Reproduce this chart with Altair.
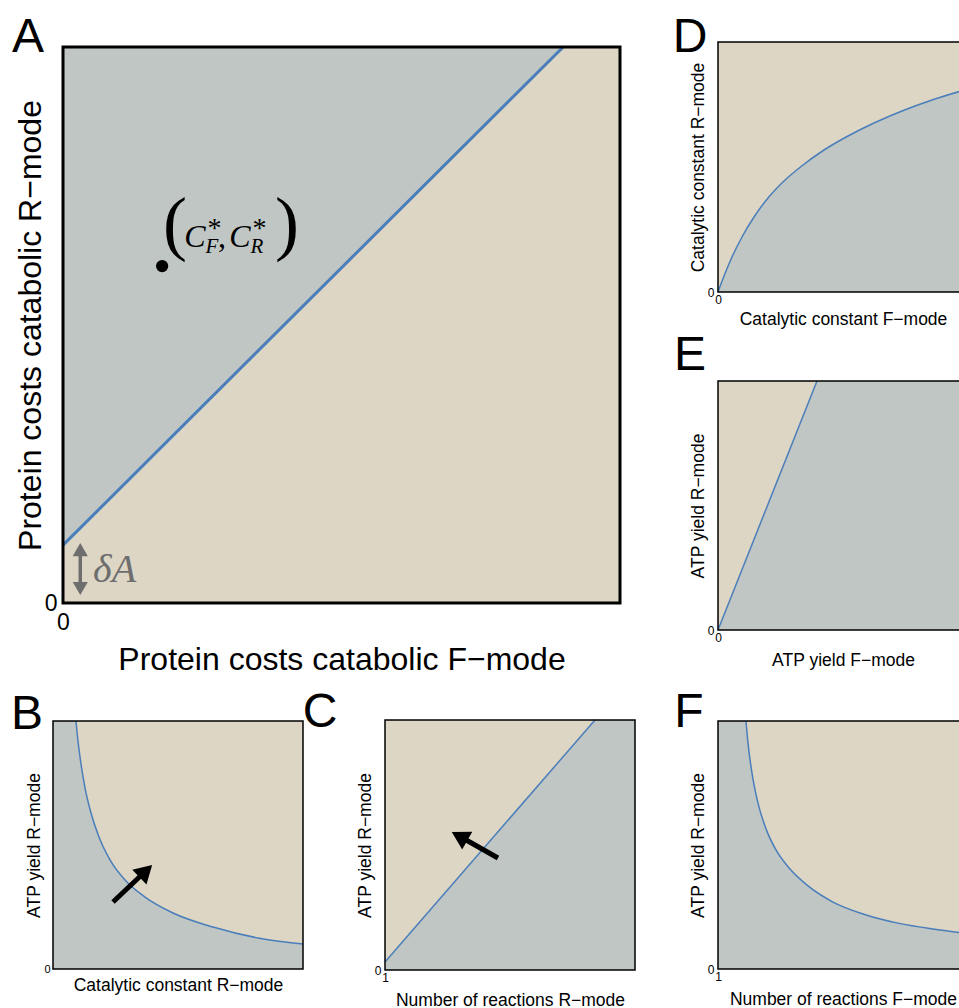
import altair as alt
import pandas as pd

W, H = 959, 1008
GRAY = "#BFC6C4"
TAN = "#DDD6C4"
BLUE = "#4A7EBB"
DGRAY = "#6E6E6E"
SANS = "Liberation Sans"
SERIF = "Liberation Serif"

# ---------------- data ----------------
# Panel A: boundary line, optimum point, delta-A arrow
A_line_x = [0.0, 0.898]
A_line_y = [0.104, 1.0]
A_point_x = [0.178]
A_point_y = [0.606]
A_arrow_x = [0.031]
A_arrow_y = [0.030]
A_arrow_y2 = [0.090]
A_head_y = [0.096, 0.026]
A_head_shape = ["triangle-up", "triangle-down"]

# Panel B: ATP yield R-mode vs catalytic constant R-mode
B_x = [0.092, 0.1, 0.112, 0.128, 0.152, 0.184, 0.228, 0.288, 0.368, 0.48, 0.64, 0.82, 1.0]
B_y = [1.0, 0.919, 0.827, 0.730, 0.629, 0.532, 0.440, 0.359, 0.290, 0.226, 0.169, 0.125, 0.101]
B_arrow = {"x": 0.24, "y": 0.270, "x2": 0.371, "y2": 0.395}

# Panel C: ATP yield R-mode vs number of reactions R-mode
C_x = [1.0, 8.56]
C_y = [0.032, 1.0]
C_arrow = {"x": 5.068, "y": 0.448, "x2": 3.682, "y2": 0.535}

# Panel D: catalytic constant R-mode vs F-mode
D_x = [0.0, 0.024, 0.056, 0.096, 0.144, 0.2, 0.264, 0.34, 0.424, 0.52, 0.624, 0.736, 0.856, 1.0]
D_y = [0.0, 0.064, 0.14, 0.22, 0.3, 0.376, 0.444, 0.508, 0.568, 0.624, 0.676, 0.724, 0.768, 0.812]

# Panel E: ATP yield R-mode vs F-mode
E_x = [0.0, 0.396]
E_y = [0.0, 1.0]

# Panel F: ATP yield R-mode vs number of reactions F-mode
F_x = [2.008, 2.08, 2.224, 2.44, 2.728, 3.088, 3.592, 4.24, 5.14, 6.22, 7.48, 8.74, 10.0]
F_y = [1.0, 0.911, 0.790, 0.669, 0.565, 0.480, 0.403, 0.335, 0.270, 0.222, 0.185, 0.161, 0.143]

# panel letters (position in each panel's own units)
LETTERS = {"A": (-0.063, 1.016), "B": (-0.104, 1.024), "C": (-1.34, 1.028),
           "D": (-0.112, 1.016), "E": (-0.112, 1.10), "F": (-0.044, 1.032)}

# label "(C*_F, C*_R)" pieces, in panel-A units
LAB_BIG_X = [0.2011, 0.2855, 0.4022]
LAB_BIG_T = ["(", ",", ")"]
LAB_BIG_FS = [72, 32, 72]
LAB_C_X = [0.2370, 0.3178]
LAB_SUB_X = [0.2675, 0.3483]
LAB_SUB_T = ["F", "R"]
LAB_STAR_X = [0.2720, 0.3530]
LAB_BASE_Y = 0.6403
LAB_SUB_Y = 0.6295
LAB_STAR_Y = 0.6727

# ---------------- panel layout ----------------
PANELS = {
    "A": dict(xdom=[0, 1], ydom=[0, 1], xr=[63, 620], yr=[603, 47],
              xt="Protein costs catabolic F\u2212mode", yt="Protein costs catabolic R\u2212mode",
              xlab=True, lfs=23, xlp=8, ylp=6, tfs=32, xtp=10, ytp=-3, bw=3, lw=3),
    "B": dict(xdom=[0, 1], ydom=[0, 1], xr=[53, 303], yr=[969, 721],
              xt="Catalytic constant R\u2212mode", yt="ATP yield R\u2212mode",
              xlab=False, lfs=11, xlp=2, ylp=3, tfs=17.5, xtp=7, ytp=0, bw=1.5, lw=1.5),
    "C": dict(xdom=[1, 10], ydom=[0, 1], xr=[385, 635], yr=[970, 720],
              xt="Number of reactions R\u2212mode", yt="ATP yield R\u2212mode",
              xlab=True, lfs=12, xlp=2, ylp=4, tfs=17.5, xtp=8, ytp=0, bw=1.5, lw=1.5),
    "D": dict(xdom=[0, 1], ydom=[0, 1], xr=[718, 968], yr=[292, 42],
              xt="Catalytic constant F\u2212mode", yt="Catalytic constant R\u2212mode",
              xlab=True, lfs=12, xlp=2, ylp=4, tfs=17.5, xtp=5, ytp=0, bw=1.5, lw=1.5),
    "E": dict(xdom=[0, 1], ydom=[0, 1], xr=[718, 968], yr=[630, 381],
              xt="ATP yield F\u2212mode", yt="ATP yield R\u2212mode",
              xlab=True, lfs=12, xlp=2, ylp=4, tfs=17.5, xtp=8, ytp=0, bw=1.5, lw=1.5),
    "F": dict(xdom=[1, 10], ydom=[0, 1], xr=[718, 968], yr=[969, 721],
              xt="Number of reactions F\u2212mode", yt="ATP yield R\u2212mode",
              xlab=True, lfs=12, xlp=2, ylp=4, tfs=17.5, xtp=8, ytp=0, bw=1.5, lw=1.5),
}


def encoders(p):
    xs = alt.Scale(domain=p["xdom"], range=p["xr"], nice=False, zero=False)
    ys = alt.Scale(domain=p["ydom"], range=p["yr"], nice=False, zero=False)
    xa = alt.Axis(orient="bottom", offset=p["yr"][0] - H, title=p["xt"],
                  values=[p["xdom"][0]], labels=p["xlab"], labelFlush=False,
                  labelFontSize=p["lfs"], labelPadding=p["xlp"],
                  titleFontSize=p["tfs"], titlePadding=p["xtp"],
                  ticks=False, domain=False, grid=False)
    ya = alt.Axis(orient="left", offset=-p["xr"][0], title=p["yt"],
                  values=[p["ydom"][0]], labelFlush=False,
                  labelFontSize=p["lfs"], labelPadding=p["ylp"],
                  titleFontSize=p["tfs"], titlePadding=p["ytp"],
                  ticks=False, domain=False, grid=False)

    def X(f="x"):
        return alt.X(f + ":Q", scale=xs, axis=xa)

    def Y(f="y"):
        return alt.Y(f + ":Q", scale=ys, axis=ya)

    return X, Y


def frame_layers(name, X, Y, p):
    box = pd.DataFrame({"x": [p["xdom"][0]], "x2": [p["xdom"][1]],
                        "y": [p["ydom"][0]], "y2": [p["ydom"][1]]})
    bg = alt.Chart(box).mark_rect(fill=TAN).encode(
        x=X(), x2="x2:Q", y=Y(), y2="y2:Q")
    outline = alt.Chart(box).mark_rect(fillOpacity=0, stroke="black",
                                       strokeWidth=p["bw"]).encode(
        x=X(), x2="x2:Q", y=Y(), y2="y2:Q")
    lx, ly = LETTERS[name]
    letter = alt.Chart(pd.DataFrame({"x": [lx], "y": [ly], "t": [name]})).mark_text(
        font=SANS, fontSize=48, align="center", baseline="middle", color="black"
    ).encode(x=X(), y=Y(), text="t:N")
    return bg, outline, letter


layers = []

# ---------- A ----------
p = PANELS["A"]
X, Y = encoders(p)
bg, outline, letter = frame_layers("A", X, Y, p)
dfA = pd.DataFrame({"x": A_line_x, "y": A_line_y, "y2": [1.0] * len(A_line_x)})
areaA = alt.Chart(dfA).mark_area(color=GRAY).encode(x=X(), y=Y(), y2="y2:Q")
lineA = alt.Chart(dfA).mark_line(color=BLUE, strokeWidth=p["lw"]).encode(x=X(), y=Y())
ptA = alt.Chart(pd.DataFrame({"x": A_point_x, "y": A_point_y})).mark_circle(
    color="black", size=150, opacity=1).encode(x=X(), y=Y())
shaftA = alt.Chart(pd.DataFrame({"x": A_arrow_x, "y": A_arrow_y, "y2": A_arrow_y2})).mark_rule(
    color=DGRAY, strokeWidth=3.5).encode(x=X(), y=Y(), y2="y2:Q")
headsA = alt.Chart(pd.DataFrame({"x": A_arrow_x * 2, "y": A_head_y, "s": A_head_shape})).mark_point(
    filled=True, color=DGRAY, size=230, opacity=1).encode(
    x=X(), y=Y(), shape=alt.Shape("s:N", scale=None))
deltaA = alt.Chart(pd.DataFrame({"x": [0.054], "y": [0.038], "t": ["\u03b4A"]})).mark_text(
    font=SERIF, fontStyle="italic", fontSize=40, align="left", baseline="alphabetic",
    color=DGRAY).encode(x=X(), y=Y(), text="t:N")
# (C*_F, C*_R)
parens = alt.Chart(pd.DataFrame({"x": LAB_BIG_X, "y": [LAB_BASE_Y] * 3,
                                 "t": LAB_BIG_T, "fs": LAB_BIG_FS})).mark_text(
    font=SERIF, align="center", baseline="alphabetic", color="black").encode(
    x=X(), y=Y(), text="t:N", size=alt.Size("fs:Q", scale=None))
cees = alt.Chart(pd.DataFrame({"x": LAB_C_X, "y": [LAB_BASE_Y] * 2,
                               "t": ["C", "C"]})).mark_text(
    font=SERIF, fontStyle="italic", fontSize=32, align="center", baseline="alphabetic",
    color="black").encode(x=X(), y=Y(), text="t:N")
subs = alt.Chart(pd.DataFrame({"x": LAB_SUB_X, "y": [LAB_SUB_Y] * 2,
                               "t": LAB_SUB_T})).mark_text(
    font=SERIF, fontStyle="italic", fontSize=21, align="center", baseline="alphabetic",
    color="black").encode(x=X(), y=Y(), text="t:N")
stars = alt.Chart(pd.DataFrame({"x": LAB_STAR_X, "y": [LAB_STAR_Y] * 2,
                                "t": ["*", "*"]})).mark_text(
    font=SERIF, fontSize=28, align="center", baseline="middle",
    color="black").encode(x=X(), y=Y(), text="t:N")
layers.append(alt.layer(bg, areaA, lineA, outline, ptA, shaftA, headsA, deltaA,
                        parens, cees, subs, stars, letter))


def curve_panel(name, cx, cy, area_x, area_y, interp, arrow=None, arrow_angle=0):
    p = PANELS[name]
    X, Y = encoders(p)
    bg, outline, letter = frame_layers(name, X, Y, p)
    dfa = pd.DataFrame({"x": area_x, "y": area_y, "y2": [p["ydom"][0]] * len(area_x)})
    area = alt.Chart(dfa).mark_area(color=GRAY, interpolate=interp).encode(
        x=X(), y=Y(), y2="y2:Q")
    dfl = pd.DataFrame({"x": cx, "y": cy})
    line = alt.Chart(dfl).mark_line(color=BLUE, strokeWidth=p["lw"],
                                    interpolate=interp).encode(x=X(), y=Y())
    parts = [bg, area, line, outline]
    if arrow is not None:
        dfr = pd.DataFrame({k: [v] for k, v in arrow.items()})
        shaft = alt.Chart(dfr).mark_rule(color="black", strokeWidth=5).encode(
            x=X(), y=Y(), x2="x2:Q", y2="y2:Q")
        head = alt.Chart(pd.DataFrame({"x": [arrow["x2"]], "y": [arrow["y2"]]})).mark_point(
            shape="triangle-up", filled=True, color="black", size=420, opacity=1,
            angle=arrow_angle).encode(x=X(), y=Y())
        parts += [shaft, head]
    parts.append(letter)
    return alt.layer(*parts)


# ---------- B ----------
layers.append(curve_panel("B", B_x, B_y, [0.0] + B_x, [1.0] + B_y, "monotone", B_arrow, 46))
# ---------- C ----------
layers.append(curve_panel("C", C_x, C_y, C_x + [10.0], C_y + [1.0], "linear", C_arrow, 299.5))
# ---------- D ----------
layers.append(curve_panel("D", D_x, D_y, D_x, D_y, "monotone"))
# ---------- E ----------
layers.append(curve_panel("E", E_x, E_y, E_x + [1.0], E_y + [1.0], "linear"))
# ---------- F ----------
layers.append(curve_panel("F", F_x, F_y, [1.0] + F_x, [1.0] + F_y, "monotone"))

chart = alt.layer(*layers).resolve_scale(
    x="independent", y="independent"
).resolve_axis(
    x="independent", y="independent"
).properties(
    width=W, height=H, padding=0, autosize=alt.AutoSizeParams(type="none"),
    background="white"
).configure_view(strokeWidth=0).configure_axis(
    labelFont=SANS, titleFont=SANS, titleFontWeight="normal",
    labelColor="black", titleColor="black"
)

chart.save("out.html", embed_options={"renderer": "svg", "actions": False})
